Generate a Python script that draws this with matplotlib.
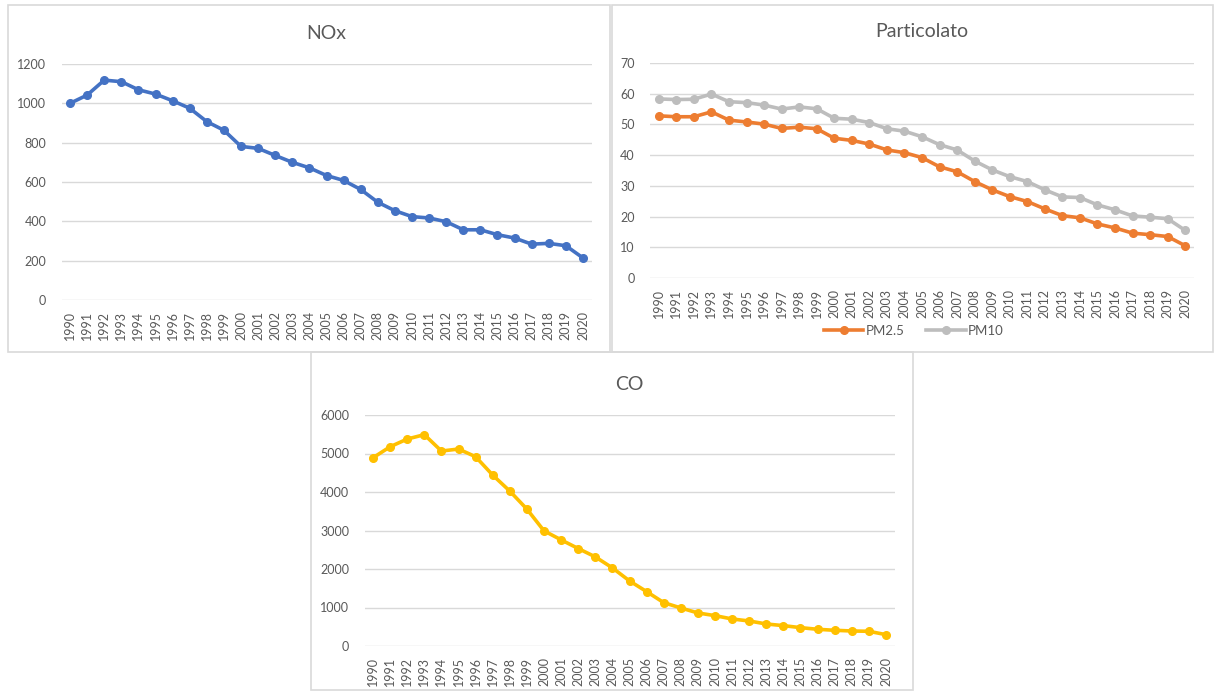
import matplotlib.pyplot as plt
from matplotlib.patches import Rectangle

plt.rcParams['font.family'] = ['Lato', 'DejaVu Sans']

years = [str(y) for y in range(1990, 2021)]

nox = [1000, 1042, 1118, 1110, 1069, 1047, 1013, 975, 907, 863,
       781, 771, 735, 700, 672, 633, 608, 562, 497, 454,
       424, 417, 398, 357, 357, 332, 315, 284, 288, 276, 214]

pm25 = [52.8, 52.5, 52.5, 54.1, 51.4, 50.8, 50.1, 48.7, 49.1, 48.6,
        45.5, 44.8, 43.6, 41.7, 40.8, 39.2, 36.2, 34.6, 31.4, 28.7,
        26.5, 24.9, 22.5, 20.3, 19.6, 17.6, 16.3, 14.6, 14.1, 13.5, 10.5]

pm10 = [58.3, 58.1, 58.2, 59.9, 57.4, 57.1, 56.3, 55.0, 55.7, 55.1,
        52.0, 51.7, 50.6, 48.6, 47.8, 46.0, 43.4, 41.7, 38.1, 35.2,
        33.0, 31.4, 28.7, 26.4, 26.2, 23.8, 22.2, 20.2, 19.8, 19.3, 15.5]

co = [4890, 5176, 5376, 5489, 5064, 5116, 4916, 4439, 4023, 3555,
      2991, 2757, 2532, 2315, 2029, 1691, 1413, 1127, 988, 858,
      789, 702, 650, 572, 529, 477, 434, 408, 390, 382, 295]

W, H = 1215, 692
fig = plt.figure(figsize=(W / 100, H / 100), dpi=100)

# light gray frames around each chart, in pixel coords
for x0, y0, x1, y1 in [(8, 5, 610, 352), (612, 5, 1213, 352), (311, 352, 913, 690)]:
    fig.patches.append(Rectangle((x0 / W, 1 - y1 / H), (x1 - x0) / W, (y1 - y0) / H,
                                 transform=fig.transFigure, fill=False,
                                 edgecolor='#d9d9d9', linewidth=1.2))


def make_ax(left, right, top, bottom):
    return fig.add_axes([left / W, 1 - bottom / H, (right - left) / W, (bottom - top) / H])


def style(ax, title, ymax, step, title_y):
    x = list(range(len(years)))
    ax.set_xlim(-0.5, len(years) - 0.5)
    ax.set_ylim(0, ymax)
    ax.set_yticks(range(0, ymax + 1, step))
    ax.set_xticks(x)
    ax.set_xticklabels(years, rotation=90)
    ax.tick_params(length=0, labelsize=9, colors='#595959')
    ax.tick_params(axis='y', pad=11)
    ax.tick_params(axis='x', pad=8)
    for s in ax.spines.values():
        s.set_visible(False)
    ax.grid(axis='y', color='#d9d9d9', linewidth=1)
    ax.set_axisbelow(True)
    ax.set_title(title, fontsize=14, color='#595959', y=title_y)


x = list(range(len(years)))

ax1 = make_ax(61.5, 591.5, 64, 300)
ax1.plot(x, nox, color='#4472C4', lw=2.6, marker='o', ms=5.5, clip_on=False)
style(ax1, 'NOx', 1200, 200, 1.07)

ax2 = make_ax(650, 1194, 63, 278)
ax2.plot(x, pm25, color='#ED7D31', lw=2.6, marker='o', ms=5.5, label='PM2.5', clip_on=False)
ax2.plot(x, pm10, color='#BDBDBD', lw=2.6, marker='o', ms=5.5, label='PM10', clip_on=False)
style(ax2, 'Particolato', 70, 10, 1.08)
ax2.legend(loc='center', bbox_to_anchor=(0.485, -0.245), ncol=2, frameon=False,
           fontsize=9.5, labelcolor='#595959', handlelength=3, columnspacing=1.6,
           handletextpad=0.2)

ax3 = make_ax(364.5, 894.5, 415, 646)
ax3.plot(x, co, color='#FFC000', lw=2.6, marker='o', ms=5.5, clip_on=False)
style(ax3, 'CO', 6000, 1000, 1.07)

fig.savefig('out.png', dpi=100)
